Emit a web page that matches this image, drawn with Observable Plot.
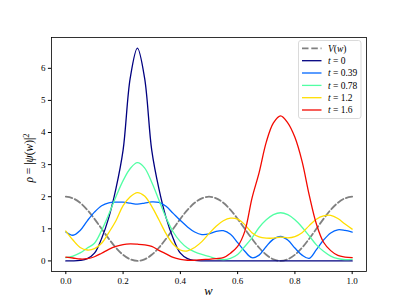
<!DOCTYPE html>
<html><head><meta charset="utf-8">
<script src="https://cdn.jsdelivr.net/npm/d3@7"></script>
<script src="https://cdn.jsdelivr.net/npm/@observablehq/plot@0.6"></script>
<style>
body{margin:0;background:#fff}
svg{font-family:"Liberation Serif","DejaVu Serif",serif}
</style>
</head><body><div id="chart"></div>
<script>
const w = [0,0.025,0.05,0.075,0.1,0.125,0.15,0.175,0.2,0.225,0.25,0.275,0.3,0.325,0.35,0.375,0.4,0.425,0.45,0.475,0.5,0.525,0.55,0.575,0.6,0.625,0.65,0.675,0.7,0.725,0.75,0.775,0.8,0.825,0.85,0.875,0.9,0.925,0.95,0.975,1.0];
const V = [2.0,1.95,1.81,1.59,1.31,1.0,0.69,0.41,0.19,0.05,0.0,0.05,0.19,0.41,0.69,1.0,1.31,1.59,1.81,1.95,2.0,1.95,1.81,1.59,1.31,1.0,0.69,0.41,0.19,0.05,0.0,0.05,0.19,0.41,0.69,1.0,1.31,1.59,1.81,1.95,2.0];
const rho_t0 = [0,0,0.015,0.07,0.24,0.7,1.35,2.25,3.45,5.7,6.63,5.7,3.45,2.25,1.35,0.7,0.24,0.07,0.015,0,0,0,0,0,0,0,0,0,0,0,0,0,0,0,0,0,0,0,0,0,0];
const rho_t039 = [0.90,0.80,0.95,1.25,1.52,1.72,1.81,1.83,1.83,1.80,1.77,1.80,1.84,1.82,1.70,1.48,1.26,1.06,0.90,0.82,0.84,0.92,0.94,0.83,0.57,0.30,0.10,0.18,0.45,0.68,0.76,0.65,0.40,0.18,0.08,0.35,0.65,0.87,0.97,0.95,0.90];
const rho_t078 = [0.10,0.15,0.25,0.40,0.55,0.95,1.45,2.00,2.50,2.88,3.06,2.90,2.45,1.90,1.35,0.90,0.60,0.40,0.28,0.20,0.14,0.07,0.04,0.08,0.20,0.45,0.72,1.04,1.28,1.44,1.50,1.44,1.28,1.05,0.78,0.50,0.30,0.15,0.07,0.04,0.05];
const rho_t12 = [0.93,0.65,0.42,0.34,0.38,0.55,0.88,1.25,1.72,2.00,2.13,2.02,1.70,1.28,0.85,0.52,0.34,0.31,0.42,0.60,0.85,1.08,1.25,1.33,1.30,1.13,0.88,0.75,0.71,0.71,0.74,0.72,0.76,0.88,1.10,1.30,1.40,1.42,1.32,1.15,0.99];
const rho_t16 = [0.12,0.09,0.06,0.07,0.13,0.24,0.36,0.45,0.51,0.53,0.52,0.50,0.45,0.33,0.22,0.11,0.05,0.02,0.02,0.04,0.05,0.07,0.10,0.24,0.45,0.92,1.95,2.75,3.70,4.30,4.52,4.30,3.85,3.10,2.05,1.15,0.58,0.32,0.17,0.12,0.10];
const tLabels = ["0","0.39","0.78","1.2","1.6"];
const seriesValues = [rho_t0, rho_t039, rho_t078, rho_t12, rho_t16];
const colors = ["#000080","#0066ff","#52ffa4","#ffde00","#f30900"];
const xTicks = [0,0.2,0.4,0.6,0.8,1.0];
const yTicks = [0,1,2,3,4,5,6];

const Vrows = w.map((x,i)=>({w:x, v:V[i]}));
const seriesRows = seriesValues.map(vals => w.map((x,i)=>({w:x, rho:vals[i]})));

const plot = Plot.plot({
  width:407, height:305,
  marginLeft:51, marginRight:41, marginTop:37, marginBottom:34,
  x:{domain:[-0.05,1.05]},
  y:{domain:[-0.33,6.96]},
  style:{fontFamily:"Liberation Serif, DejaVu Serif, serif", fontSize:"9px", background:"white", color:"black"},
  marks:[
    Plot.line(Vrows,{x:"w",y:"v",stroke:"#808080",strokeWidth:1.8,strokeDasharray:"6.5,2.8",curve:"catmull-rom"}),
    ...seriesRows.map((rows,k)=>Plot.line(rows,{x:"w",y:"rho",stroke:colors[k],strokeWidth:1.3,curve:"catmull-rom"})),
    Plot.frame({stroke:"black",strokeWidth:0.8}),
    Plot.axisX({ticks:xTicks, tickFormat:d3.format(".1f"), tickSize:3.1, tickPadding:3, label:null, fontSize:9}),
    Plot.axisY({ticks:yTicks, tickFormat:d=>String(d), tickSize:3.1, tickPadding:3, label:null, fontSize:9})
  ]
});
document.getElementById("chart").appendChild(plot);

const svg = d3.select(plot);
// axis labels
svg.append("text").attr("x",208.5).attr("y",295).attr("text-anchor","middle")
  .attr("font-size",12.5).attr("font-style","italic").text("w");
const yl = svg.append("text").attr("transform","translate(33,158) rotate(-90)")
  .attr("text-anchor","middle").attr("font-size",11.5);
yl.append("tspan").attr("font-style","italic").text("ρ");
yl.append("tspan").text(" = |");
yl.append("tspan").attr("font-style","italic").text("ψ");
yl.append("tspan").text("(");
yl.append("tspan").attr("font-style","italic").text("w");
yl.append("tspan").text(")|");
yl.append("tspan").attr("font-size",8.5).attr("dy",-4.5).text("2");

// legend
const lg = svg.append("g").attr("text-anchor","start");
lg.append("rect").attr("x",298.5).attr("y",40.5).attr("width",62.5).attr("height",78).attr("rx",2.5)
  .attr("fill","white").attr("fill-opacity",0.8).attr("stroke","#d0d0d0").attr("stroke-width",0.8);
const rowsY = [48.3,60.7,73,85.4,97.7,110];
lg.append("line").attr("x1",302).attr("x2",321.5).attr("y1",rowsY[0]).attr("y2",rowsY[0])
  .attr("stroke","#808080").attr("stroke-width",1.8).attr("stroke-dasharray","6.5,2.8");
const t0 = lg.append("text").attr("x",328).attr("y",rowsY[0]+3.2).attr("font-size",9.5).attr("text-anchor","start");
t0.append("tspan").attr("font-style","italic").text("V");
t0.append("tspan").text("(");
t0.append("tspan").attr("font-style","italic").text("w");
t0.append("tspan").text(")");
tLabels.forEach((lab,k)=>{
  const y = rowsY[k+1];
  lg.append("line").attr("x1",302).attr("x2",321.5).attr("y1",y).attr("y2",y)
    .attr("stroke",colors[k]).attr("stroke-width",1.3);
  const t = lg.append("text").attr("x",328).attr("y",y+3.2).attr("font-size",9.5).attr("text-anchor","start");
  t.append("tspan").attr("font-style","italic").text("t");
  t.append("tspan").text(" = " + lab);
});
</script>
</body></html>
